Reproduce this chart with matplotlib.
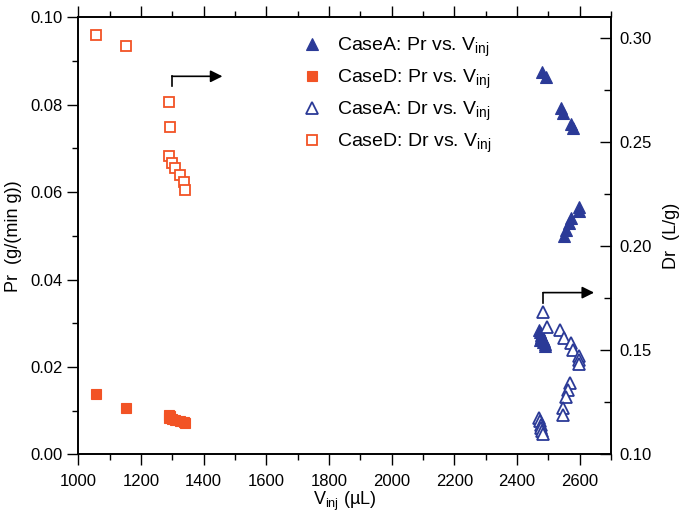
import matplotlib
matplotlib.use('Agg')
import matplotlib.pyplot as plt
from matplotlib.ticker import MultipleLocator, FormatStrFormatter

plt.rcParams['font.family'] = ['Liberation Sans', 'DejaVu Sans']
plt.rcParams['mathtext.fontset'] = 'custom'
plt.rcParams['mathtext.rm'] = 'Liberation Sans'
plt.rcParams['mathtext.it'] = 'Liberation Sans:italic'

# Case A : Pr (left axis)
v_a_pr = [2481, 2494, 2541, 2548, 2573, 2580, 2599, 2597, 2573, 2567, 2557, 2549,
          2470, 2474, 2478, 2476, 2482, 2486, 2484, 2490, 2472, 2488]
pr_a = [0.0875, 0.0864, 0.0792, 0.0781, 0.0756, 0.0747, 0.0567, 0.0556, 0.0540, 0.0529,
        0.0514, 0.0500, 0.0285, 0.0279, 0.0273, 0.0268, 0.0264, 0.0260, 0.0256, 0.0253,
        0.0262, 0.0248]

# Case D : Pr (left axis)
v_d = [1056, 1151, 1290, 1292, 1291, 1299, 1310, 1325, 1337, 1339]
pr_d = [0.0138, 0.0105, 0.0091, 0.0088, 0.0084, 0.0081, 0.0078, 0.0076, 0.0074, 0.0071]

# Case A : Dr (right axis)
v_a_dr = [2482, 2495, 2538, 2549, 2573, 2580, 2599, 2597, 2597, 2570, 2562, 2557, 2546, 2546,
          2470, 2473, 2476, 2478, 2480, 2483]
dr_a = [0.1684, 0.1612, 0.1596, 0.1557, 0.1533, 0.1500, 0.1472, 0.1452, 0.1433, 0.1341,
        0.1309, 0.1274, 0.1221, 0.1189, 0.1176, 0.1160, 0.1141, 0.1126, 0.1110, 0.1096]

# Case D : Dr (right axis)
dr_d = [0.3017, 0.2964, 0.2694, 0.2574, 0.2433, 0.2401, 0.2377, 0.2342, 0.2310, 0.2272]

blue = '#2b3a97'
orange = '#f25325'

fig = plt.figure(figsize=(6.79, 5.17), dpi=100)
ax = fig.add_axes([0.1153, 0.1213, 0.7846, 0.8452])
ax2 = ax.twinx()

h1, = ax.plot(v_a_pr, pr_a, '^', color=blue, ms=9, mec=blue, mew=0.8, ls='none')
h2, = ax.plot(v_d, pr_d, 's', color=orange, ms=6.5, mec=orange, mew=0.8, ls='none')
h3, = ax2.plot(v_a_dr, dr_a, '^', mfc='white', mec=blue, ms=8, mew=1.3, ls='none')
h4, = ax2.plot(v_d, dr_d, 's', mfc='white', mec=orange, ms=6.5, mew=1.3, ls='none')

ax.set_xlim(1000, 2700)
ax.set_ylim(0, 0.10)
ax2.set_ylim(0.10, 0.31)

ax.xaxis.set_major_locator(MultipleLocator(200))
ax.xaxis.set_minor_locator(MultipleLocator(100))
ax.yaxis.set_major_locator(MultipleLocator(0.02))
ax.yaxis.set_minor_locator(MultipleLocator(0.01))
ax.yaxis.set_major_formatter(FormatStrFormatter('%.2f'))
ax2.yaxis.set_major_locator(MultipleLocator(0.05))
ax2.yaxis.set_minor_locator(MultipleLocator(0.025))
ax2.yaxis.set_major_formatter(FormatStrFormatter('%.2f'))

ax.tick_params(which='major', direction='out', length=8, width=1, labelsize=12)
ax.tick_params(which='minor', direction='out', length=4, width=1)
ax.tick_params(axis='x', which='both', top=True)
ax.tick_params(axis='x', which='major', pad=6)
ax2.tick_params(which='major', direction='in', length=8, width=1, labelsize=12, pad=6)
ax2.tick_params(which='minor', direction='in', length=5, width=1)
for a in (ax, ax2):
    for s in a.spines.values():
        s.set_linewidth(1.2)

ax.set_xlabel('V$_{\\mathrm{inj}}$ (µL)', fontsize=13, labelpad=1)
ax.set_ylabel('Pr  (g/(min g))', fontsize=13, labelpad=6)
ax2.set_ylabel('Dr  (L/g)', fontsize=13, labelpad=8)

# arrows showing which axis the groups belong to
ax.plot([1300, 1300], [0.0842, 0.0865], color='k', lw=1.2)
ax.annotate('', xy=(1460, 0.0865), xytext=(1299, 0.0865),
            arrowprops=dict(arrowstyle='-|>', color='k', lw=1.2, mutation_scale=18,
                            shrinkA=0, shrinkB=0))
ax.plot([2484, 2484], [0.0346, 0.0370], color='k', lw=1.2)
ax.annotate('', xy=(2646, 0.0370), xytext=(2483, 0.0370),
            arrowprops=dict(arrowstyle='-|>', color='k', lw=1.2, mutation_scale=18,
                            shrinkA=0, shrinkB=0))

labels = ['CaseA: Pr vs. V$_{\\mathrm{inj}}$', 'CaseD: Pr vs. V$_{\\mathrm{inj}}$',
          'CaseA: Dr vs. V$_{\\mathrm{inj}}$', 'CaseD: Dr vs. V$_{\\mathrm{inj}}$']
leg = ax.legend([h1, h2, h3, h4], labels, loc='upper left',
                bbox_to_anchor=(0.405, 0.975), frameon=False, fontsize=14,
                handlelength=1.0, handletextpad=0.8, labelspacing=0.45,
                borderaxespad=0)
leg.set_zorder(5)

fig.savefig('out.png', dpi=100)
